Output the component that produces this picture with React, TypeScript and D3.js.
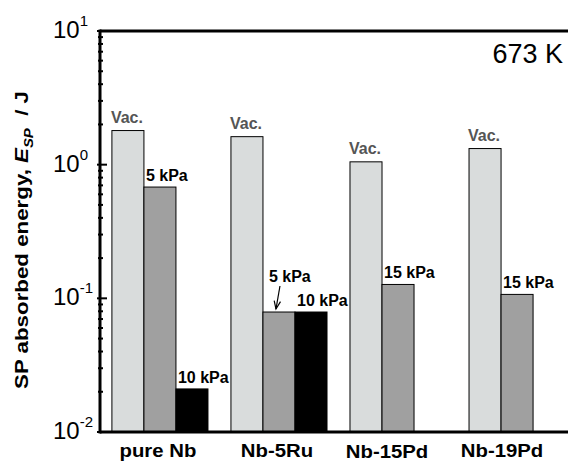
import React, { useEffect, useRef } from 'react';
import * as d3 from 'd3';

// data
const alloys = ['pure Nb', 'Nb-5Ru', 'Nb-15Pd', 'Nb-19Pd'];
const conditions = ['vac', 'low', 'high'];
const vacValues = [1.8, 1.62, 1.05, 1.32];
const lowValues = [0.68, 0.079, 0.127, 0.107];
const lowLabels = ['5 kPa', '5 kPa', '15 kPa', '15 kPa'];
const highValues: (number | null)[] = [0.021, 0.079, null, null];
const highLabels = ['10 kPa', '10 kPa', '', ''];
const yTickValues = [0.01, 0.1, 1, 10];
const yTickExps = ['-2', '-1', '0', '1'];

const fills: Record<string, string> = { vac: '#d9dcdc', low: '#a0a0a0', high: '#000000' };

const App: React.FC = () => {
  const svgRef = useRef<SVGSVGElement>(null);

  useEffect(() => {
    if (!svgRef.current) return;
    const width = 568;
    const height = 461;
    const left = 100;
    const top = 31;
    const bottom = 432;

    const svg = d3.select(svgRef.current)
      .attr('width', width)
      .attr('height', height)
      .style('font-family', 'Liberation Sans, Arial, sans-serif');
    svg.selectAll('*').remove();

    svg.append('rect').attr('width', width).attr('height', height).attr('fill', '#fff');

    const x = d3.scaleBand<string>()
      .domain(alloys)
      .range([left, 577])
      .paddingInner(0.193)
      .paddingOuter(0.1);
    const xSub = d3.scaleBand<string>()
      .domain(conditions)
      .range([0, x.bandwidth()]);
    const y = d3.scaleLog().domain([0.01, 10]).range([bottom, top]);

    const bars: { alloy: string; cond: string; value: number; label: string; i: number }[] = [];
    alloys.forEach((a, i) => {
      bars.push({ alloy: a, cond: 'vac', value: vacValues[i], label: 'Vac.', i });
      bars.push({ alloy: a, cond: 'low', value: lowValues[i], label: lowLabels[i], i });
      const h = highValues[i];
      if (h != null) bars.push({ alloy: a, cond: 'high', value: h, label: highLabels[i], i });
    });

    const bx = (d: typeof bars[number]) => (x(d.alloy) as number) + (xSub(d.cond) as number);

    svg.append('g').selectAll('rect')
      .data(bars)
      .enter().append('rect')
      .attr('x', d => bx(d))
      .attr('y', d => y(d.value))
      .attr('width', xSub.bandwidth())
      .attr('height', d => bottom - y(d.value))
      .attr('fill', d => fills[d.cond])
      .attr('stroke', '#000')
      .attr('stroke-width', 1);

    // bar labels
    const lab = svg.append('g').style('font-weight', 'bold').style('font-size', '16px');
    bars.forEach(d => {
      const bx0 = bx(d);
      const yt = y(d.value);
      if (d.cond === 'vac') {
        lab.append('text').attr('x', bx0 + xSub.bandwidth() / 2 - 1).attr('y', yt - 8)
          .attr('text-anchor', 'middle').attr('fill', '#555').text(d.label);
      } else if (d.cond === 'low' && highValues[d.i] != null && highValues[d.i] === d.value) {
        // label lifted with an arrow pointing at the bar
        lab.append('text').attr('x', bx0 + 6).attr('y', yt - 30).attr('fill', '#000').text(d.label);
        const x1 = bx0 + 17, y1 = yt - 26, x2 = bx0 + 13, y2 = yt - 3;
        const len = Math.hypot(x2 - x1, y2 - y1);
        const ux = (x2 - x1) / len, uy = (y2 - y1) / len;
        const backX = x2 - ux * 8, backY = y2 - uy * 8;
        svg.append('line').attr('x1', x1).attr('y1', y1).attr('x2', x2).attr('y2', y2)
          .attr('stroke', '#000').attr('stroke-width', 1.2);
        svg.append('path')
          .attr('d', `M${backX - uy * 3.2},${backY + ux * 3.2} L${x2},${y2} L${backX + uy * 3.2},${backY - ux * 3.2}`)
          .attr('fill', 'none').attr('stroke', '#000').attr('stroke-width', 1.2);
      } else {
        lab.append('text').attr('x', bx0 + 2).attr('y', yt - 6).attr('fill', '#000').text(d.label);
      }
    });

    // frame lines
    svg.append('line').attr('x1', left).attr('x2', width).attr('y1', top).attr('y2', top)
      .attr('stroke', '#000').attr('stroke-width', 3);
    svg.append('line').attr('x1', left).attr('x2', width).attr('y1', bottom).attr('y2', bottom)
      .attr('stroke', '#000').attr('stroke-width', 3);
    svg.append('line').attr('x1', left).attr('x2', left).attr('y1', top - 1.5).attr('y2', bottom + 1.5)
      .attr('stroke', '#000').attr('stroke-width', 3);

    // y ticks
    const minor: number[] = [];
    [0.01, 0.1, 1].forEach(dec => { for (let k = 2; k <= 9; k++) minor.push(dec * k); });
    svg.append('g').selectAll('line')
      .data(minor)
      .enter().append('line')
      .attr('x1', left - 2).attr('x2', left + 3)
      .attr('y1', d => y(d)).attr('y2', d => y(d))
      .attr('stroke', '#000').attr('stroke-width', 2);
    svg.append('g').selectAll('line')
      .data(yTickValues)
      .enter().append('line')
      .attr('x1', left - 3).attr('x2', left + 7)
      .attr('y1', d => y(d)).attr('y2', d => y(d))
      .attr('stroke', '#000').attr('stroke-width', 2);

    const tl = svg.append('g');
    yTickValues.forEach((v, i) => {
      const t = tl.append('text').attr('x', 53).attr('y', y(v) + 7).style('font-size', '24px').attr('fill', '#000');
      t.append('tspan').text('10');
      t.append('tspan').attr('dy', -12).style('font-size', '15px').text(yTickExps[i]);
    });

    // x category labels, centred under the bars that are present
    const labelOffset = [-2, -2, 5, 1];
    const baseline = [457, 457, 458, 457];
    alloys.forEach((a, i) => {
      const n = highValues[i] != null ? 3 : 2;
      const cx = (x(a) as number) + (xSub.step() * n) / 2 + labelOffset[i];
      svg.append('text')
        .attr('transform', `translate(${cx},${baseline[i]}) scale(1.13,1)`)
        .attr('text-anchor', 'middle')
        .style('font-size', '18px').style('font-weight', 'bold')
        .text(a);
    });

    // y axis title
    const yt = svg.append('text')
      .attr('transform', 'translate(28,240) rotate(-90) scale(1.24,1)')
      .attr('text-anchor', 'middle')
      .style('font-size', '18px').style('font-weight', 'bold');
    yt.append('tspan').text('SP absorbed energy, ');
    yt.append('tspan').style('font-style', 'italic').text('E');
    yt.append('tspan').style('font-style', 'italic').style('font-size', '12px').attr('dy', 5).text('SP');
    yt.append('tspan').attr('dy', -5).text('\u00a0\u00a0/ J');

    svg.append('text').attr('x', 563).attr('y', 63).attr('text-anchor', 'end')
      .style('font-size', '27px').text('673 K');
  }, []);

  return (
    <svg ref={svgRef} style={{ position: 'absolute', left: 0, top: 0, display: 'block' }} />
  );
};

export default App;
